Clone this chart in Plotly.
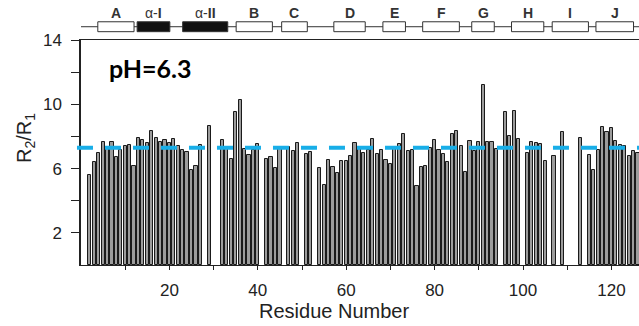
import plotly.graph_objects as go

# ---- data ----
residues = [2, 3, 4, 5, 6, 7, 8, 9, 10, 11, 12, 13, 14, 15, 16, 17, 18, 19, 20, 21, 22, 23, 24, 25, 26, 27,
            29, 32, 33, 34, 35, 36, 37, 38, 39, 40, 42, 43, 44, 45, 47, 48, 49, 51, 52, 54, 55, 56, 57, 58,
            59, 60, 61, 62, 63, 64, 65, 66, 67, 68, 69, 70, 71, 72, 73, 74, 75, 76, 77, 78, 79, 80, 81, 82,
            83, 84, 85, 86, 87, 88, 89, 90, 91, 92, 93, 94, 96, 97, 98, 99, 101, 102, 103, 104, 105, 107,
            109, 113, 115, 116, 117, 118, 119, 120, 121, 122, 123, 124, 125, 126]
r2_r1 = [5.61, 6.40, 6.97, 7.63, 7.28, 7.63, 6.70, 7.13, 7.42, 7.48, 6.18, 7.90, 7.80, 7.59, 8.36, 7.90,
         7.63, 7.76, 7.59, 7.84, 7.38, 7.17, 7.01, 5.89, 6.18, 7.44,
         8.63, 7.76, 7.25, 6.59, 9.50, 10.25, 7.19, 6.82, 7.17, 7.55, 6.61, 6.70, 6.03, 7.26, 7.34, 7.11,
         7.59, 6.92, 7.03, 6.03, 4.97, 6.51, 6.08, 5.72,
         6.49, 6.49, 6.80, 7.57, 7.32, 6.97, 7.13, 7.84, 6.92, 7.13, 6.55, 6.28, 7.32, 7.55, 8.15, 7.11,
         7.17, 4.93, 6.07, 6.13, 7.28, 7.76, 7.13, 6.92,
         6.40, 8.17, 8.32, 7.38, 5.76, 7.69, 7.07, 7.65, 11.17, 7.63, 7.63, 7.24, 9.52, 8.00, 9.56, 7.84,
         6.97, 7.63, 7.59, 7.55, 6.49, 6.80,
         8.28, 7.90, 6.86, 5.89, 7.17, 8.57, 8.28, 8.53, 7.69, 7.44, 7.42, 6.76, 7.11, 7.00]
mean_value = 7.3

# secondary structure elements (residue ranges)
ss_labels = ["A", "α-I", "α-II", "B", "C", "D", "E", "F", "G", "H", "I", "J"]
ss_start = [3.8, 12.7, 23.0, 35.1, 45.4, 57.2, 68.3, 77.3, 88.4, 97.4, 106.6, 116.5]
ss_end = [12.0, 20.1, 33.2, 43.3, 51.2, 64.3, 73.4, 85.6, 93.5, 104.7, 114.8, 125.0]
ss_helix = [False, True, True, False, False, False, False, False, False, False, False, False]

y_tickvals = [2, 4, 6, 8, 10, 12, 14]
y_ticktext = ["2", "", "6", "", "10", "", "14"]
x_tickvals = [10, 20, 30, 40, 50, 60, 70, 80, 90, 100, 110, 120]
x_ticktext = ["", "20", "", "40", "", "60", "", "80", "", "100", "", "120"]

FONT = "Liberation Sans, Arial, sans-serif"

fig = go.Figure()
fig.add_trace(go.Bar(
    x=residues, y=r2_r1, width=0.72,
    marker=dict(color="#9c9c9c", line=dict(color="#1a1a1a", width=1)),
    showlegend=False,
))

shapes = []
# mean dashed line
shapes.append(dict(type="line", xref="paper", yref="y", x0=-0.0072, x1=1, y0=mean_value, y1=mean_value,
                   line=dict(color="#18aee8", width=4, dash="16px,12px"), layer="above"))
# secondary-structure backbone line
shapes.append(dict(type="line", xref="paper", yref="paper", x0=0, x1=1, y0=1.059, y1=1.059,
                   line=dict(color="#333333", width=1)))
annotations = []
for lab, s, e, h in zip(ss_labels, ss_start, ss_end, ss_helix):
    shapes.append(dict(type="rect", xref="x", yref="paper", x0=s, x1=e, y0=1.037, y1=1.081,
                       line=dict(color="#333333", width=1),
                       fillcolor="#111111" if h else "white"))
    if h:
        txt = "α-<b>" + lab.split("-")[1] + "</b>"
    else:
        txt = "<b>" + lab + "</b>"
    annotations.append(dict(text=txt, xref="x", yref="paper", x=(s + e) / 2, y=1.118,
                            showarrow=False, font=dict(family=FONT, size=14, color="#333333"),
                            xanchor="center", yanchor="middle"))

annotations.append(dict(text="R<sub>2</sub>/R<sub>1</sub>", xref="paper", yref="paper", x=-0.1004, y=0.564,
                        textangle=-90, showarrow=False, font=dict(family=FONT, size=20, color="#222222"),
                        xanchor="center", yanchor="middle"))
annotations.append(dict(text="Residue Number", xref="paper", yref="paper", x=0.453, y=-0.204,
                        showarrow=False, font=dict(family=FONT, size=20, color="#222222"),
                        xanchor="center", yanchor="middle"))
annotations.append(dict(text="<b>pH=6.3</b>", xref="paper", yref="paper", x=0.0466, y=0.876,
                        showarrow=False, font=dict(family="Lato, Open Sans, sans-serif", size=25, color="#000000"),
                        xanchor="left", yanchor="middle"))

fig.update_layout(
    width=639, height=326,
    margin=dict(l=81, r=0, t=40, b=61),
    paper_bgcolor="white", plot_bgcolor="white",
    shapes=shapes, annotations=annotations,
    bargap=0,
    xaxis=dict(range=[0, 126.24], tickvals=x_tickvals, ticktext=x_ticktext,
               ticks="outside", ticklen=4, tickcolor="#222222", tickwidth=1,
               showline=True, linecolor="#222222", linewidth=1, mirror=True,
               showgrid=False, zeroline=False, ticklabelstandoff=6,
               tickfont=dict(family=FONT, size=17, color="#222222")),
    yaxis=dict(range=[0, 14], tickvals=y_tickvals, ticktext=y_ticktext,
               ticks="outside", ticklen=8, tickcolor="#222222", tickwidth=1,
               showline=True, linecolor="#222222", linewidth=1.5,
               showgrid=False, zeroline=False, ticklabelstandoff=6,
               tickfont=dict(family=FONT, size=17, color="#222222")),
)

fig.write_html("out.html")
